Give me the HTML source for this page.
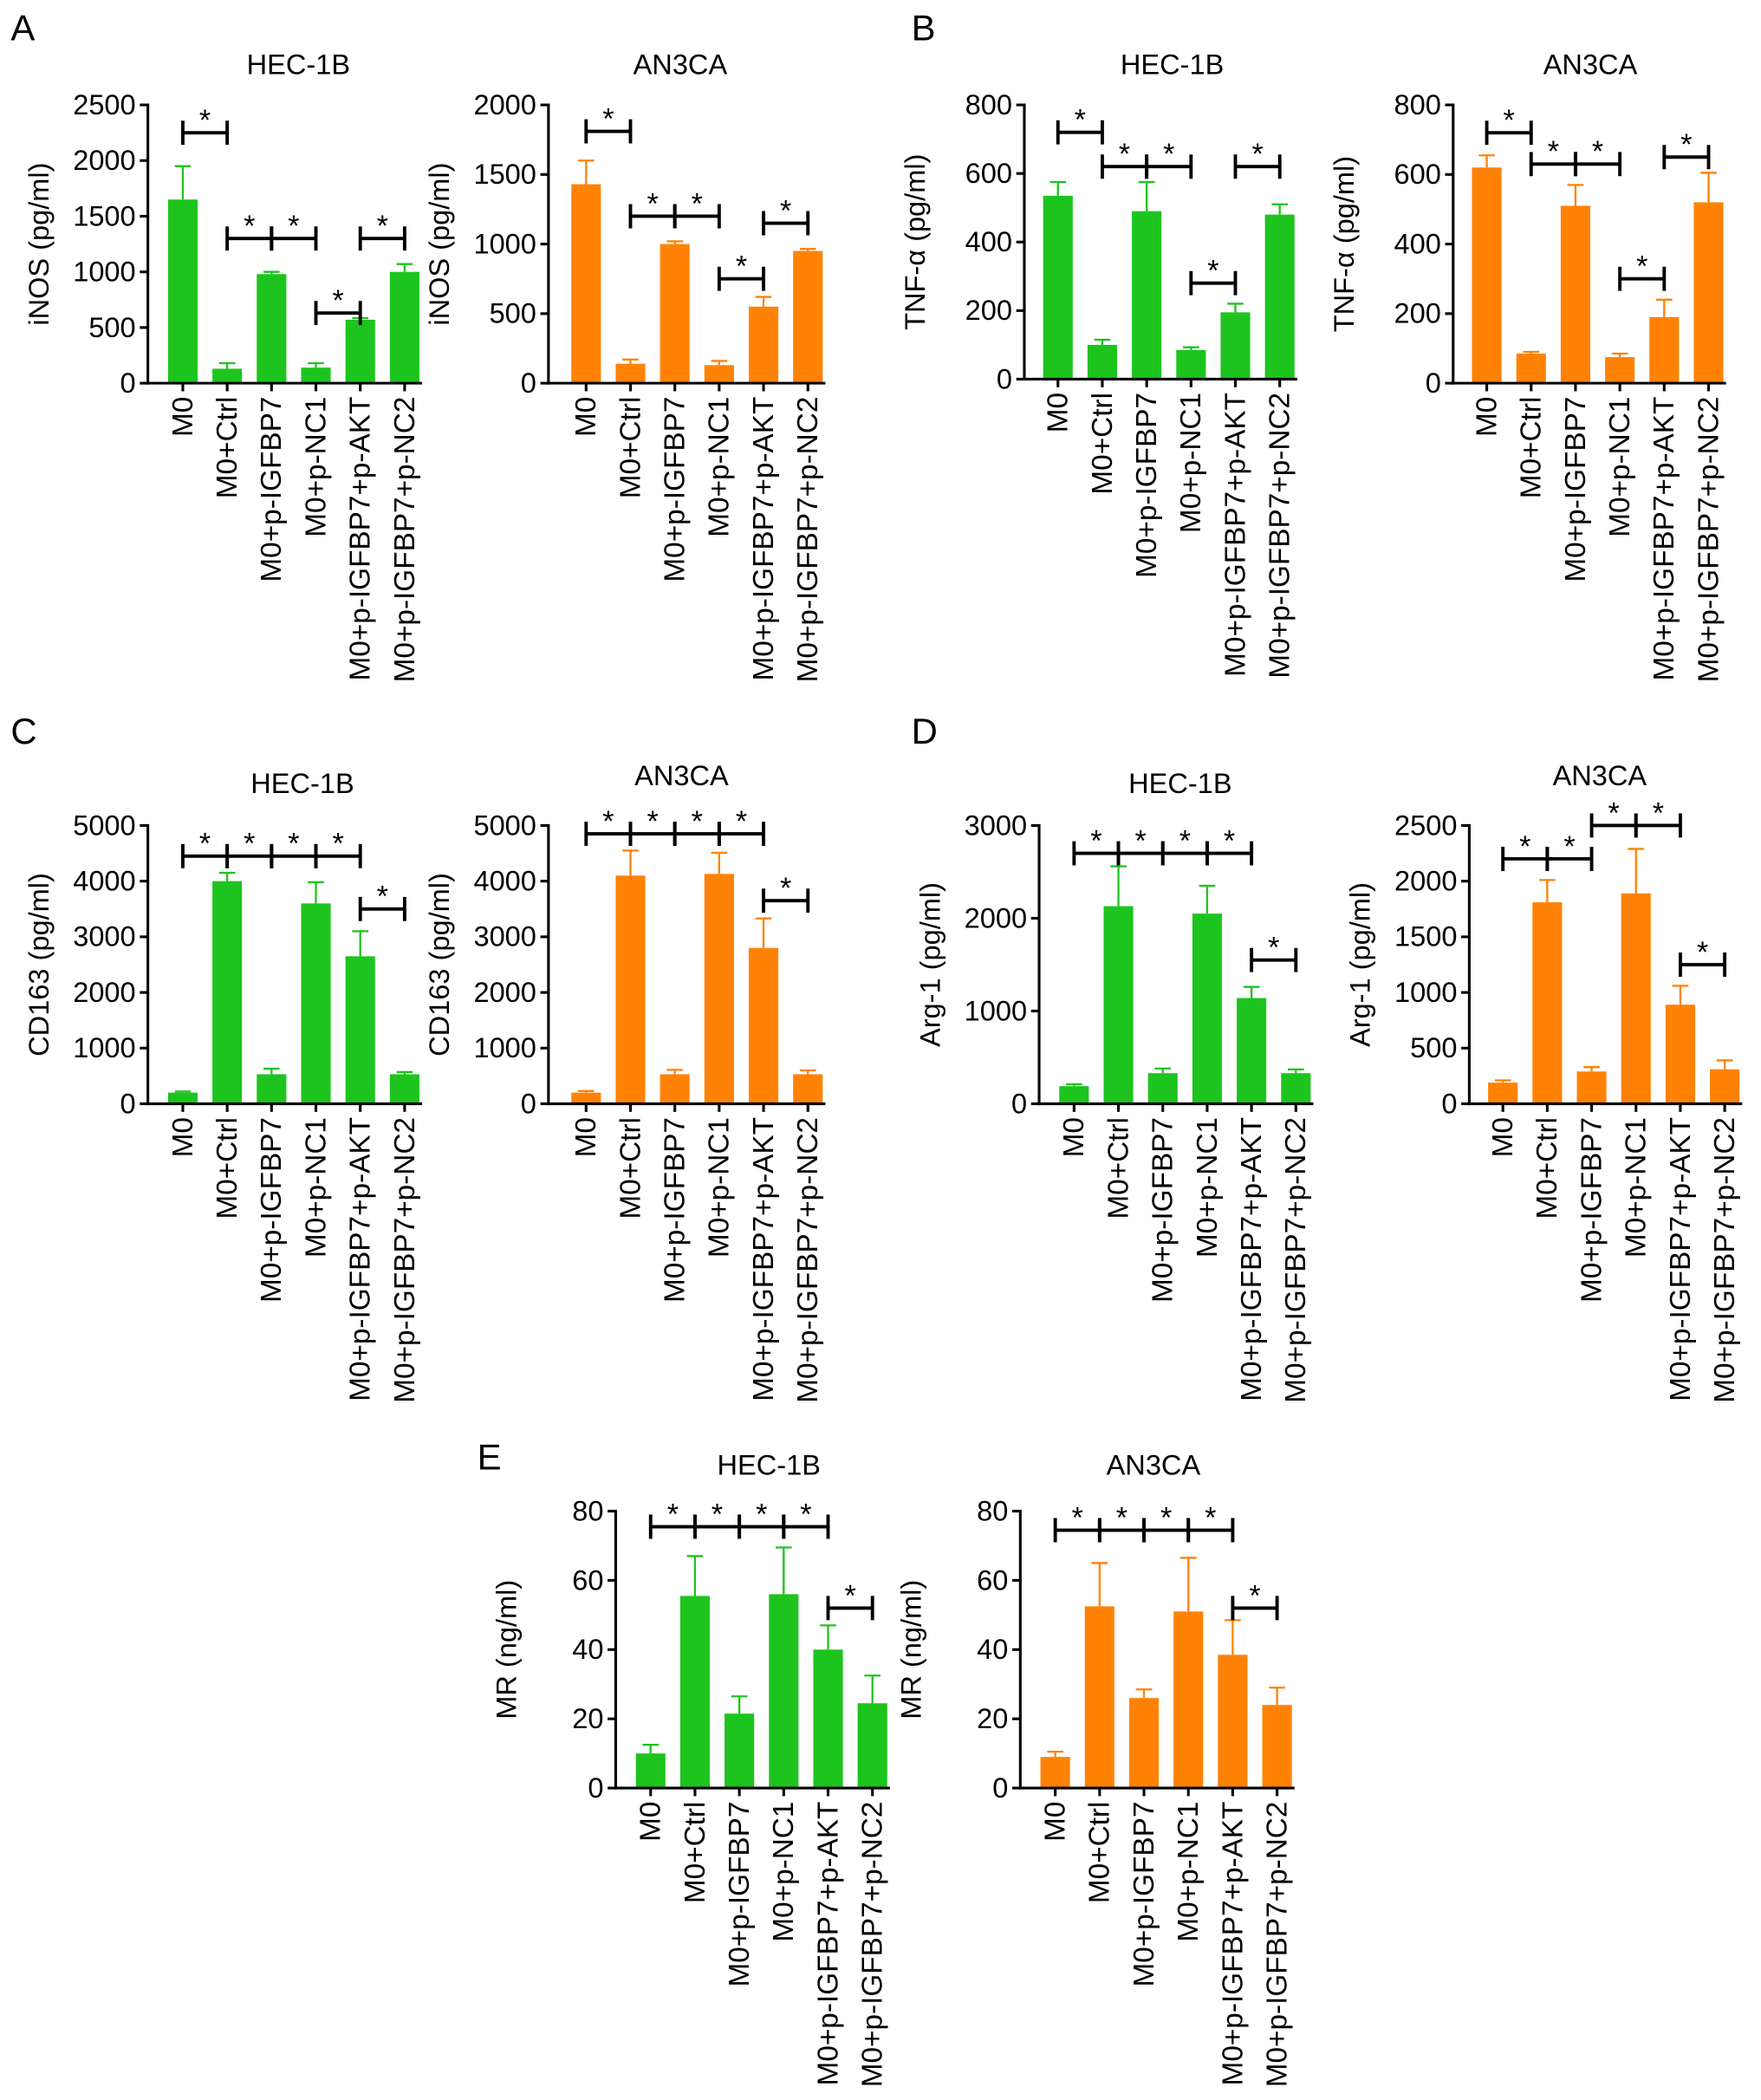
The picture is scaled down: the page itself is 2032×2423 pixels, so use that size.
<!DOCTYPE html>
<html><head><meta charset="utf-8"><style>
html,body{margin:0;padding:0;background:#fff}
svg{display:block}
text{font-family:"Liberation Sans",sans-serif;fill:#000}
</style></head><body>
<svg id="fig" width="2032" height="2423" viewBox="0 0 1310 1562" xmlns="http://www.w3.org/2000/svg"></svg>
<script>
const categories=["M0","M0+Ctrl","M0+p-IGFBP7","M0+p-NC1","M0+p-IGFBP7+p-AKT","M0+p-IGFBP7+p-NC2"];
const aHecVals=[1650,130,980,140,570,1000];const aHecErr=[300,50,20,40,15,70];
const aAnVals=[1430,140,1000,130,550,950];const aAnErr=[170,30,20,30,70,15];
const bHecVals=[535,100,490,85,195,480];const bHecErr=[40,15,85,8,25,30];
const bAnVals=[620,85,510,75,190,520];const bAnErr=[35,5,60,10,50,85];
const cHecVals=[200,4000,530,3600,2650,530];const cHecErr=[20,150,100,380,450,40];
const cAnVals=[200,4100,530,4130,2800,530];const cAnErr=[30,450,80,380,530,70];
const dHecVals=[190,2130,330,2050,1140,330];const dHecErr=[20,430,50,300,120,40];
const dAnVals=[190,1810,290,1890,890,310];const dAnErr=[20,200,40,400,170,80];
const eHecVals=[10,55.5,21.5,56,40,24.5];const eHecErr=[2.5,11.5,5,13.5,7,8];
const eAnVals=[9,52.5,26,51,38.5,24];const eAnErr=[1.5,12.5,2.5,15.5,10,5];
const ticks2500=[0,500,1000,1500,2000,2500];
const ticks2000=[0,500,1000,1500,2000];
const ticks800=[0,200,400,600,800];
const ticks5000=[0,1000,2000,3000,4000,5000];
const ticks3000=[0,1000,2000,3000];
const ticks80=[0,20,40,60,80];
const aHecSig=[[0,1,2250],[1,2,1300],[2,3,1300],[3,4,630],[4,5,1300]];
const aAnSig=[[0,1,1810],[1,2,1200],[2,3,1200],[3,4,750],[4,5,1150]];
const bHecSig=[[0,1,720],[1,2,620],[2,3,620],[3,4,280],[4,5,620]];
const bAnSig=[[0,1,720],[1,2,630],[2,3,630],[3,4,300],[4,5,650]];
const cHecSig=[[0,1,4450],[1,2,4450],[2,3,4450],[3,4,4450],[4,5,3500]];
const cAnSig=[[0,1,4850],[1,2,4850],[2,3,4850],[3,4,4850],[4,5,3650]];
const dHecSig=[[0,1,2700],[1,2,2700],[2,3,2700],[3,4,2700],[4,5,1550]];
const dAnSig=[[0,1,2200],[1,2,2200],[2,3,2500],[3,4,2500],[4,5,1250]];
const eHecSig=[[0,1,75.5],[1,2,75.5],[2,3,75.5],[3,4,75.5],[4,5,52]];
const eAnSig=[[0,1,74.5],[1,2,74.5],[2,3,74.5],[3,4,74.5],[4,5,52]];

const NS="http://www.w3.org/2000/svg";
const svg=document.getElementById('fig');
function mk(tag,attrs,parent,txt){const e=document.createElementNS(NS,tag);for(const k in attrs)e.setAttribute(k,attrs[k]);if(txt!==undefined)e.textContent=txt;(parent||svg).appendChild(e);return e;}
const GREEN="#1ec41e",ORANGE="#ff8205";
function chart(o){
  const g=mk('g',{});
  
  
  const max=o.ticks[o.ticks.length-1];
  const y=v=>o.y0-(v/max)*(o.y0-o.ytop);
  const x=i=>o.x0+i*33;
  const t=mk('text',{x:o.tx,y:o.ty,'font-size':21,'text-anchor':'middle'},g,o.title);
  
  
  const yl=mk('text',{transform:`translate(${o.ax-74},${(o.y0+o.ytop)/2}) rotate(-90)`,'font-size':21,'text-anchor':'middle'},g,o.ylab);
  
  
  o.vals.forEach((v,i)=>{
    const cx=x(i),top=y(v+o.err[i]);
    const el=mk('line',{x1:cx,x2:cx,y1:y(v),y2:top,stroke:o.color,'stroke-width':1.5},g);
    
    
    mk('line',{x1:cx-6,x2:cx+6,y1:top,y2:top,stroke:o.color,'stroke-width':1.5},g);
    const b=mk('rect',{x:cx-11,y:y(v),width:22,height:o.y0-y(v),fill:o.color},g);
    
    
  });
  const ya=mk('line',{x1:o.ax,x2:o.ax,y1:o.ytop-1,y2:o.y0+1,stroke:'#000','stroke-width':2},g);
  
  
  const xa=mk('line',{x1:o.ax-1,x2:x(5)+13,y1:o.y0,y2:o.y0,stroke:'#000','stroke-width':2},g);
  
  
  o.ticks.forEach(tv=>{
    mk('line',{x1:o.ax-6,x2:o.ax,y1:y(tv),y2:y(tv),stroke:'#000','stroke-width':2},g);
    const tl=mk('text',{x:o.ax-9,y:y(tv)+7,'font-size':21,'text-anchor':'end'},g,tv);
    
    
  });
  categories.forEach((c,i)=>{
    mk('line',{x1:x(i),x2:x(i),y1:o.y0,y2:o.y0+6,stroke:'#000','stroke-width':2},g);
    const cl=mk('text',{transform:`translate(${x(i)+7},${o.y0+10}) rotate(-90)`,'font-size':21.5,'text-anchor':'end'},g,c);
    
    
  });
  o.sig.forEach(s=>{
    const x1=x(s[0]),x2=x(s[1]),yy=y(s[2]);
    const br=mk('path',{d:`M${x1},${yy-9}V${yy+9}M${x1},${yy}H${x2}M${x2},${yy-9}V${yy+9}`,stroke:'#000','stroke-width':2.5,fill:'none'},g);
    
    
    mk('text',{x:(x1+x2)/2,y:yy-2,'font-size':22,'text-anchor':'middle'},g,'*');
  });
}
function letter(l,x,y){const e=mk('text',{x:x,y:y,'font-size':27},svg,l);}
letter('A',8,30);letter('B',678,30);letter('C',8,553);letter('D',678,553);letter('E',355,1093);
chart({name:'chart-a-hec1b',title:'HEC-1B',tx:222,ty:55,ax:110,x0:136,ytop:78,y0:285,ticks:ticks2500,vals:aHecVals,err:aHecErr,sig:aHecSig,color:GREEN,ylab:'iNOS (pg/ml)'});
chart({name:'chart-a-an3ca',title:'AN3CA',tx:506,ty:55,ax:408,x0:436,ytop:78,y0:285,ticks:ticks2000,vals:aAnVals,err:aAnErr,sig:aAnSig,color:ORANGE,ylab:'iNOS (pg/ml)'});
chart({name:'chart-b-hec1b',title:'HEC-1B',tx:872,ty:55,ax:762,x0:787,ytop:78,y0:282,ticks:ticks800,vals:bHecVals,err:bHecErr,sig:bHecSig,color:GREEN,ylab:'TNF-α (pg/ml)'});
chart({name:'chart-b-an3ca',title:'AN3CA',tx:1183,ty:55,ax:1081,x0:1106,ytop:78,y0:285,ticks:ticks800,vals:bAnVals,err:bAnErr,sig:bAnSig,color:ORANGE,ylab:'TNF-α (pg/ml)'});
chart({name:'chart-c-hec1b',title:'HEC-1B',tx:225,ty:590,ax:110,x0:136,ytop:614,y0:821,ticks:ticks5000,vals:cHecVals,err:cHecErr,sig:cHecSig,color:GREEN,ylab:'CD163 (pg/ml)'});
chart({name:'chart-c-an3ca',title:'AN3CA',tx:507,ty:584,ax:408,x0:436,ytop:614,y0:821,ticks:ticks5000,vals:cAnVals,err:cAnErr,sig:cAnSig,color:ORANGE,ylab:'CD163 (pg/ml)'});
chart({name:'chart-d-hec1b',title:'HEC-1B',tx:878,ty:590,ax:773,x0:799,ytop:614,y0:821,ticks:ticks3000,vals:dHecVals,err:dHecErr,sig:dHecSig,color:GREEN,ylab:'Arg-1 (pg/ml)'});
chart({name:'chart-d-an3ca',title:'AN3CA',tx:1190,ty:584,ax:1093,x0:1118,ytop:614,y0:821,ticks:ticks2500,vals:dAnVals,err:dAnErr,sig:dAnSig,color:ORANGE,ylab:'Arg-1 (pg/ml)'});
chart({name:'chart-e-hec1b',title:'HEC-1B',tx:572,ty:1097,ax:458,x0:484,ytop:1124,y0:1330,ticks:ticks80,vals:eHecVals,err:eHecErr,sig:eHecSig,color:GREEN,ylab:'MR (ng/ml)'});
chart({name:'chart-e-an3ca',title:'AN3CA',tx:858,ty:1097,ax:759,x0:785,ytop:1124,y0:1330,ticks:ticks80,vals:eAnVals,err:eAnErr,sig:eAnSig,color:ORANGE,ylab:'MR (ng/ml)'});
</script>
</body></html>
